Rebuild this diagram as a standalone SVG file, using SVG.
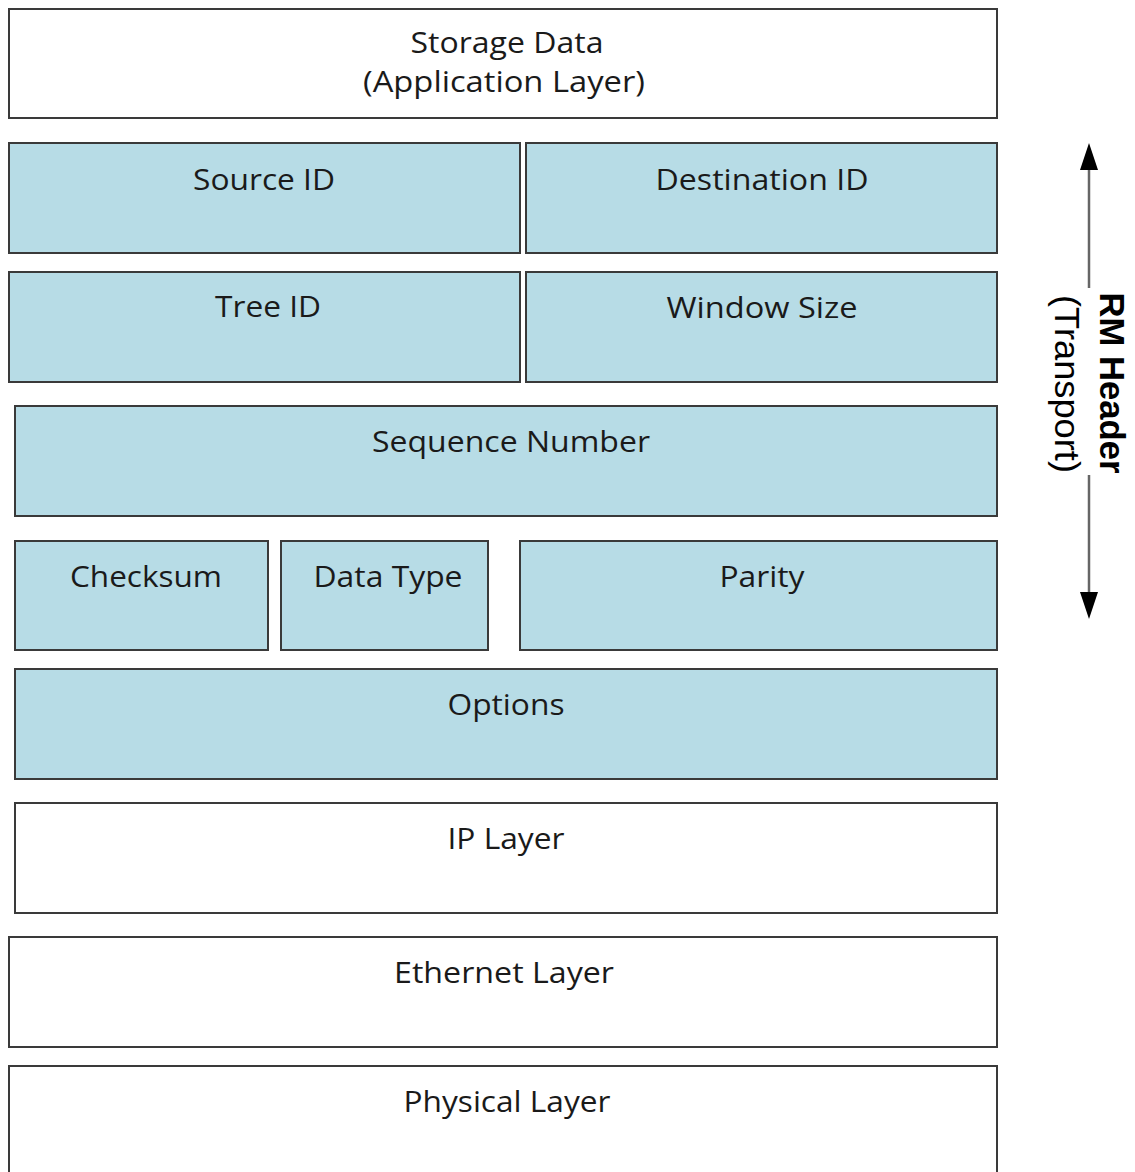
<svg xmlns="http://www.w3.org/2000/svg" width="1135" height="1172" viewBox="0 0 1135 1172">
<style>
.b{stroke:#3a3a3a;stroke-width:2}
.w{fill:#ffffff}
.h{fill:#b7dce6}
.t{font-family:"Open Sans","Noto Sans",sans-serif;font-size:29px;fill:#1a1a1a;text-anchor:middle}
.r{font-family:"Liberation Sans",Arial,sans-serif;font-size:35px;fill:#000;text-anchor:middle}
</style>
<defs>
<marker id="ah" viewBox="0 0 27 18" refX="0" refY="9" markerWidth="27" markerHeight="18" markerUnits="userSpaceOnUse" orient="auto">
<path d="M0,0 L27,9 L0,18 Z" fill="#000"/>
</marker>
</defs>
<rect x="0" y="0" width="1135" height="1172" fill="#fff"/>
<g id="storage"><rect class="b w" x="9" y="9" width="988" height="109"/>
<text class="t" x="507" y="53" textLength="193" lengthAdjust="spacingAndGlyphs">Storage Data</text>
<text class="t" x="504" y="92" textLength="282" lengthAdjust="spacingAndGlyphs">(Application Layer)</text></g>
<g id="source"><rect class="b h" x="9" y="143" width="511" height="110"/>
<text class="t" x="264" y="190" textLength="142" lengthAdjust="spacingAndGlyphs">Source ID</text></g>
<g id="dest"><rect class="b h" x="526" y="143" width="471" height="110"/>
<text class="t" x="762" y="190" textLength="213" lengthAdjust="spacingAndGlyphs">Destination ID</text></g>
<g id="tree"><rect class="b h" x="9" y="272" width="511" height="110"/>
<text class="t" x="268" y="317" textLength="106" lengthAdjust="spacingAndGlyphs">Tree ID</text></g>
<g id="window"><rect class="b h" x="526" y="272" width="471" height="110"/>
<text class="t" x="762" y="318" textLength="191" lengthAdjust="spacingAndGlyphs">Window Size</text></g>
<g id="seq"><rect class="b h" x="15" y="406" width="982" height="110"/>
<text class="t" x="511" y="452" textLength="278" lengthAdjust="spacingAndGlyphs">Sequence Number</text></g>
<g id="checksum"><rect class="b h" x="15" y="541" width="253" height="109"/>
<text class="t" x="146" y="587" textLength="152" lengthAdjust="spacingAndGlyphs">Checksum</text></g>
<g id="datatype"><rect class="b h" x="281" y="541" width="207" height="109"/>
<text class="t" x="388" y="587" textLength="149" lengthAdjust="spacingAndGlyphs">Data Type</text></g>
<g id="parity"><rect class="b h" x="520" y="541" width="477" height="109"/>
<text class="t" x="762" y="587" textLength="85" lengthAdjust="spacingAndGlyphs">Parity</text></g>
<g id="options"><rect class="b h" x="15" y="669" width="982" height="110"/>
<text class="t" x="506" y="715" textLength="117" lengthAdjust="spacingAndGlyphs">Options</text></g>
<g id="ip"><rect class="b w" x="15" y="803" width="982" height="110"/>
<text class="t" x="506" y="849" textLength="117" lengthAdjust="spacingAndGlyphs">IP Layer</text></g>
<g id="ethernet"><rect class="b w" x="9" y="937" width="988" height="110"/>
<text class="t" x="504" y="983" textLength="220" lengthAdjust="spacingAndGlyphs">Ethernet Layer</text></g>
<g id="physical"><rect class="b w" x="9" y="1066" width="988" height="120"/>
<text class="t" x="507" y="1112" textLength="207" lengthAdjust="spacingAndGlyphs">Physical Layer</text></g>
<g id="connectors">
<line x1="1089" y1="288" x2="1089" y2="170" stroke="#666" stroke-width="2.5" marker-end="url(#ah)"/>
<line x1="1089" y1="475" x2="1089" y2="592" stroke="#666" stroke-width="2.5" marker-end="url(#ah)"/>
</g>
<g id="label" transform="translate(1089,383) rotate(90)">
<text class="r" x="0" y="-11" font-weight="bold" textLength="181" lengthAdjust="spacingAndGlyphs">RM Header</text>
<text class="r" x="1" y="34" textLength="178" lengthAdjust="spacingAndGlyphs">(Transport)</text>
</g>
</svg>
